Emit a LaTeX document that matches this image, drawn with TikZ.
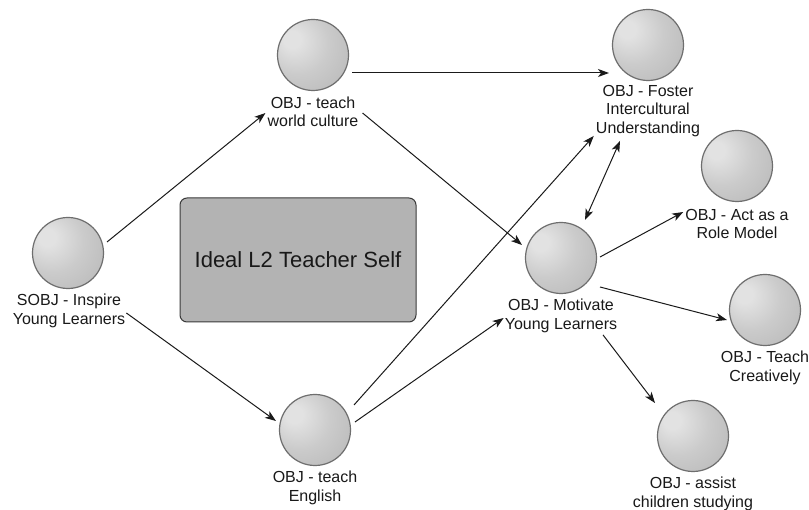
\documentclass[tikz,border=0pt]{standalone}
\usepackage{fontspec}
\setmainfont{Liberation Sans}
\usetikzlibrary{arrows.meta,calc}
\definecolor{sphhi}{HTML}{E2E2E2}
\definecolor{sphmid}{HTML}{CBCBCB}
\definecolor{sphbody}{HTML}{BCBCBC}
\definecolor{sphedge}{HTML}{A6A6A6}
\definecolor{sphdark}{HTML}{8E8E8E}
\definecolor{sphline}{HTML}{6E6E6E}
\definecolor{boxfill}{HTML}{B3B3B3}
\definecolor{boxline}{HTML}{3A3A3A}
\definecolor{linecol}{HTML}{1A1A1A}
\pgfdeclareradialshading{spherish}{\pgfpoint{-16bp}{12bp}}{color(0bp)=(sphhi); color(6bp)=(sphhi); color(22bp)=(sphmid); color(38bp)=(sphbody); color(52bp)=(sphedge); color(66bp)=(sphdark); color(72bp)=(sphdark)}
\tikzset{
  sphere/.style={circle, minimum size=71pt, inner sep=0pt, shading=spherish, draw=sphline, line width=1.2pt},
  lbl/.style={align=center, inner sep=0pt, font=\fontsize{16}{18.5}\selectfont, text=black!90},
  arr/.style={draw=linecol, line width=1pt, -{Stealth[length=11pt,width=8pt,inset=3pt]}},
  darr/.style={draw=linecol, line width=1pt, {Stealth[length=11pt,width=8pt,inset=3pt]}-{Stealth[length=11pt,width=8pt,inset=3pt]}},
  bigbox/.style={draw=boxline, fill=boxfill, rounded corners=7pt, line width=1pt, minimum width=236pt, minimum height=124pt, font=\fontsize{22}{26}\selectfont, text=black!90}
}
\begin{document}
\begin{tikzpicture}[x=1pt,y=-1pt]
\useasboundingbox (0,0) rectangle (809,510);
\fill[white] (0,0) rectangle (809,510);
% box
\node[bigbox] (ideal) at (298,260) {Ideal L2 Teacher Self};
% spheres
\node[sphere] (sobj) at (68,253) {};
\node[sphere] (world) at (313,55) {};
\node[sphere] (foster) at (648,45) {};
\node[sphere] (role) at (737,166) {};
\node[sphere] (mot) at (561,258) {};
\node[sphere] (creat) at (765,310) {};
\node[sphere] (assist) at (693,436) {};
\node[sphere] (eng) at (315,430) {};
% labels
\node[lbl] (lsobj) at (69,311) {SOBJ - Inspire\\Young Learners};
\node[lbl] (lworld) at (313,112) {OBJ - teach\\world culture};
\node[lbl] (lfoster) at (648,111) {OBJ - Foster\\Intercultural\\Understanding};
\node[lbl] (lrole) at (737,224) {OBJ - Act as a\\Role Model};
\node[lbl] (lmot) at (561,316) {OBJ - Motivate\\Young Learners};
\node[lbl] (lcreat) at (765,368) {OBJ - Teach\\Creatively};
\node[lbl] (lassist) at (693,494) {OBJ - assist\\children studying};
\node[lbl] (leng) at (315,488) {OBJ - teach\\English};
% connectors
\draw[arr] ($(sobj)+(39,-11)$) -- ($(lworld.west)+(-2,1)$);
\draw[arr] ($(lsobj.east)+(1,2)$) -- ($(eng)+(-39,-9)$);
\draw[arr] ($(world)+(39,18)$) -- ($(foster)+(-39,28)$);
\draw[arr] ($(lworld.east)+(4,1)$) -- ($(mot)+(-39,-13)$);
\draw[arr] ($(eng)+(39,-25)$) -- ($(lfoster.south west)+(-2,-1)$);
\draw[arr] ($(eng)+(40,-8)$) -- ($(lmot.west)+(-1,2)$);
\draw[darr] ($(mot)+(24,-38)$) -- ($(lfoster.south)+(-28,4)$);
\draw[arr] ($(mot)+(39,-1)$) -- ($(lrole.west)+(-2,-12)$);
\draw[arr] ($(mot)+(39,29)$) -- ($(creat)+(-38,10)$);
\draw[arr] ($(lmot.south)+(42,2)$) -- ($(assist)+(-38,-33)$);
\end{tikzpicture}
\end{document}
